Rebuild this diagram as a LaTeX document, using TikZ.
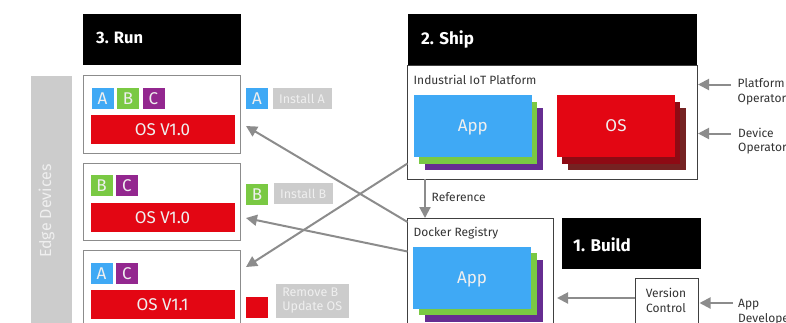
\documentclass[tikz,border=0pt]{standalone}
\usepackage{fontspec}
\setmainfont{Fira Sans}
\usetikzlibrary{arrows.meta}
\definecolor{appblue}{HTML}{3FA9F5}
\definecolor{appgreen}{HTML}{7AC943}
\definecolor{apppurple}{HTML}{93278F}
\definecolor{stackpurple}{HTML}{662D91}
\definecolor{osred}{HTML}{E30613}
\definecolor{osdark}{HTML}{8E0A14}
\definecolor{osbrown}{HTML}{752222}
\definecolor{linegray}{HTML}{8C8C8C}
\definecolor{softgray}{HTML}{CCCCCC}
\definecolor{softtext}{HTML}{EFEFEF}
\definecolor{labeltext}{HTML}{333333}
\tikzset{
	block/.style={inner sep=0pt, outer sep=0pt, anchor=center},
	phase/.style={block, fill=black},
	phasetext/.style={inner sep=0pt, anchor=west, text=white, font=\fontsize{17}{20}\selectfont\bfseries},
	device/.style={block, draw=linegray, line width=1pt, fill=white, minimum width=157pt},
	badge/.style={block, text=softtext, minimum width=22pt, minimum height=21pt, font=\fontsize{17}{20}\selectfont},
	osbar/.style={block, fill=osred, text=softtext, minimum width=144pt, minimum height=29pt, font=\fontsize{17}{20}\selectfont},
	tag/.style={block, fill=softgray, text=softtext, font=\fontsize{12.5}{14}\selectfont, align=left},
	panel/.style={block, draw=black!75, line width=1pt, fill=white},
	caption/.style={inner sep=0pt, anchor=west, text=labeltext, font=\fontsize{12}{14.5}\selectfont, align=left},
	layer/.style={block, minimum width=118.5pt, minimum height=62pt},
	toplayer/.style={layer, text=softtext, text depth=0pt, font=\fontsize{17}{20}\selectfont},
	flow/.style={draw=linegray, line width=2pt, -{Triangle[length=11pt,width=11pt]}}
}
\begin{document}
\begin{tikzpicture}[x=1pt,y=-1pt]
	\useasboundingbox (0,0) rectangle (786,322);
	\clip (0,0) rectangle (786,322);

	% run column
	\node[phase, minimum width=158pt, minimum height=51pt] (run) at (161.5,39.5) {};
	\node[phasetext, font=\fontsize{16.5}{20}\selectfont\bfseries] (runtext) at (96,38) {3. Run};
	\node[block, fill=softgray, minimum width=41pt, minimum height=260pt] (edge) at (51,206) {};
	\node[block, rotate=90, text=softtext, font=\fontsize{16}{19}\selectfont] (edgetext) at (46.5,211) {Edge Devices};

	\node[device, minimum height=77.5pt] (dev1) at (161.5,114.25) {};
	\node[badge, fill=appblue] (a1) at (102.5,98.5) {A};
	\node[badge, fill=appgreen] (b1) at (128,98.5) {B};
	\node[badge, fill=apppurple] (c1) at (153.5,98.5) {C};
	\node[osbar] (os1) at (162.5,129.5) {OS V1.0};

	\node[device, minimum height=77pt] (dev2) at (161.5,201.5) {};
	\node[badge, fill=appgreen] (b2) at (101.5,185.5) {B};
	\node[badge, fill=apppurple] (c2) at (127,185.5) {C};
	\node[osbar] (os2) at (162.5,217.5) {OS V1.0};

	\node[device, minimum height=90pt] (dev3) at (161.5,295.5) {};
	\node[badge, fill=appblue] (a3) at (101.5,273.5) {A};
	\node[badge, fill=apppurple] (c3) at (127,273.5) {C};
	\node[osbar] (os3) at (162.5,304.5) {OS V1.1};

	% updates next to the devices
	\node[badge, fill=appblue] (newa) at (257,98.5) {A};
	\node[tag, minimum width=59pt, minimum height=21pt] (installa) at (302,98.5) {Install A};
	\node[badge, fill=appgreen] (newb) at (257,194.5) {B};
	\node[tag, minimum width=58.5pt, minimum height=21pt] (installb) at (303.25,193.5) {Install B};
	\node[badge, fill=osred] (newos) at (257,307.5) {};
	\node[tag, minimum width=72.5pt, minimum height=34pt] (removeb) at (312.25,301) {Remove B\\Update OS};

	% ship column
	\node[panel, minimum width=289.5pt, minimum height=114pt] (platform) at (552.25,122) {};
	\node[phase, minimum width=289pt, minimum height=51pt] (ship) at (552.5,39.5) {};
	\node[phasetext] (shiptext) at (421,39) {2. Ship};
	\node[caption] (platformtext) at (413.5,80) {Industrial IoT Platform};
	\node[layer, fill=stackpurple] (papp3) at (483.75,139) {};
	\node[layer, fill=appgreen] (papp2) at (478,133) {};
	\node[toplayer, fill=appblue] (papp1) at (472.75,126) {App};
	\node[layer, fill=osbrown] (pos3) at (627,139) {};
	\node[layer, fill=osdark] (pos2) at (621,133) {};
	\node[toplayer, fill=osred] (pos1) at (616,126) {OS};

	% registry and build
	\node[panel, minimum width=145.5pt, minimum height=130pt] (registry) at (480.25,283) {};
	\node[caption] (registrytext) at (413.5,233) {Docker Registry};
	\node[layer, fill=stackpurple] (rapp3) at (483.75,291) {};
	\node[layer, fill=appgreen] (rapp2) at (478,284) {};
	\node[toplayer, fill=appblue] (rapp1) at (472,278) {App};
	\node[phase, minimum width=139pt, minimum height=51pt] (build) at (631.5,243.5) {};
	\node[phasetext] (buildtext) at (573,245) {1. Build};
	\node[panel, minimum width=63pt, minimum height=80pt] (vcs) at (666.5,318) {};
	\node[caption, anchor=center, align=center] (vcstext) at (666,300.5) {Version\\Control};

	% people on the right
	\node[caption] (platformop) at (737.5,92) {Platform\\Operator};
	\node[caption] (deviceop) at (738,141) {Device\\Operator};
	\node[caption] (appdev) at (738,312) {App\\Developer};

	% free ends of the connectors
	\coordinate (reg1) at (407.5,222);
	\coordinate (reg2) at (407.5,251.5);
	\coordinate (pla1) at (407.5,163.5);
	\coordinate (tip1) at (246,126);
	\coordinate (tip2) at (246,218);
	\coordinate (tip3) at (246,267);
	\coordinate (refstart) at (425,179);
	\coordinate (refend) at (425,218);
	\coordinate (vcsout) at (635,298);
	\coordinate (regin) at (557,298);
	\coordinate (op1) at (731,84.5);
	\coordinate (op1end) at (698,84.5);
	\coordinate (op2) at (731,133.5);
	\coordinate (op2end) at (698,133.5);
	\coordinate (op3) at (733,303);
	\coordinate (op3end) at (699.5,303);

	\draw[flow] (reg1) -- (tip1);
	\draw[flow] (reg2) -- (tip2);
	\draw[flow] (pla1) -- (tip3);
	\draw[flow] (refstart) -- (refend);
	\draw[flow] (vcsout) -- (regin);
	\draw[flow] (op1) -- (op1end);
	\draw[flow] (op2) -- (op2end);
	\draw[flow] (op3) -- (op3end);
	\node[caption] (reftext) at (431.5,197) {Reference};
\end{tikzpicture}
\end{document}
